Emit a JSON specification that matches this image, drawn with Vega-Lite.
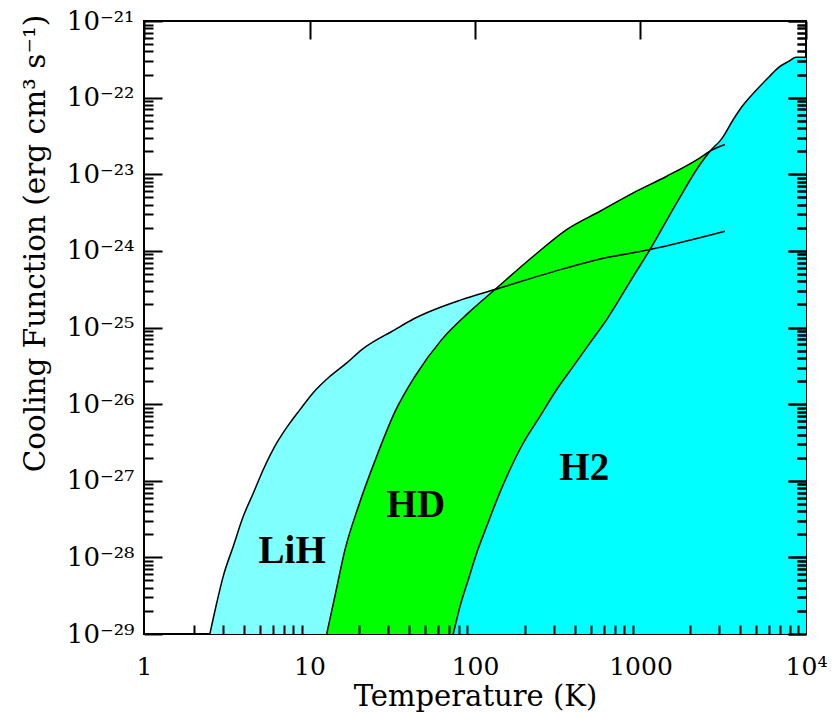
{
  "$schema": "https://vega.github.io/schema/vega-lite/v6.json",
  "width": 662,
  "height": 613,
  "autosize": {"type": "none"},
  "padding": {"left": 144, "top": 21, "right": 32, "bottom": 78},
  "background": "white",
  "config": {
    "view": {"stroke": "black", "strokeWidth": 2},
    "axis": {"grid": false, "domainColor": "black", "domainWidth": 2}
  },
  "datasets": {
    "curves": [
      {"gas": "LiH", "T": 2.5, "L": 1.0e-29},
      {"gas": "LiH", "T": 2.75, "L": 2.54e-29},
      {"gas": "LiH", "T": 3.01, "L": 5.65e-29},
      {"gas": "LiH", "T": 3.46, "L": 1.39e-28},
      {"gas": "LiH", "T": 3.98, "L": 3.43e-28},
      {"gas": "LiH", "T": 4.58, "L": 6.93e-28},
      {"gas": "LiH", "T": 5.26, "L": 1.40e-27},
      {"gas": "LiH", "T": 6.34, "L": 3.11e-27},
      {"gas": "LiH", "T": 7.62, "L": 5.69e-27},
      {"gas": "LiH", "T": 8.76, "L": 8.47e-27},
      {"gas": "LiH", "T": 10.5, "L": 1.40e-26},
      {"gas": "LiH", "T": 13.3, "L": 2.31e-26},
      {"gas": "LiH", "T": 16.8, "L": 3.45e-26},
      {"gas": "LiH", "T": 20.7, "L": 5.14e-26},
      {"gas": "LiH", "T": 32.9, "L": 9.40e-26},
      {"gas": "LiH", "T": 42.4, "L": 1.29e-25},
      {"gas": "LiH", "T": 83.1, "L": 2.31e-25},
      {"gas": "LiH", "T": 132, "L": 3.13e-25},
      {"gas": "LiH", "T": 358, "L": 6.00e-25},
      {"gas": "LiH", "T": 596, "L": 8.0e-25},
      {"gas": "LiH", "T": 1141, "L": 1.04e-24},
      {"gas": "LiH", "T": 3241, "L": 1.80e-24},
      {"gas": "HD", "T": 12.7, "L": 1.0e-29},
      {"gas": "HD", "T": 14.26, "L": 3.16e-29},
      {"gas": "HD", "T": 16.39, "L": 1.26e-28},
      {"gas": "HD", "T": 19.72, "L": 4.59e-28},
      {"gas": "HD", "T": 24.88, "L": 1.83e-27},
      {"gas": "HD", "T": 32.86, "L": 7.98e-27},
      {"gas": "HD", "T": 43.4, "L": 2.31e-26},
      {"gas": "HD", "T": 62.9, "L": 6.95e-26},
      {"gas": "HD", "T": 91.1, "L": 1.55e-25},
      {"gas": "HD", "T": 132, "L": 3.13e-25},
      {"gas": "HD", "T": 225, "L": 8.51e-25},
      {"gas": "HD", "T": 358, "L": 1.90e-24},
      {"gas": "HD", "T": 569, "L": 3.29e-24},
      {"gas": "HD", "T": 905, "L": 5.71e-24},
      {"gas": "HD", "T": 1440, "L": 9.42e-24},
      {"gas": "HD", "T": 2288, "L": 1.64e-23},
      {"gas": "HD", "T": 2630, "L": 2.00e-23},
      {"gas": "HD", "T": 3241, "L": 2.44e-23},
      {"gas": "H2", "T": 73.9, "L": 1.0e-29},
      {"gas": "H2", "T": 81.2, "L": 2.29e-29},
      {"gas": "H2", "T": 91.1, "L": 5.12e-29},
      {"gas": "H2", "T": 102.4, "L": 1.14e-28},
      {"gas": "H2", "T": 117.7, "L": 2.54e-28},
      {"gas": "H2", "T": 138.3, "L": 6.25e-28},
      {"gas": "H2", "T": 162.7, "L": 1.40e-27},
      {"gas": "H2", "T": 195.8, "L": 3.11e-27},
      {"gas": "H2", "T": 247, "L": 6.93e-27},
      {"gas": "H2", "T": 311.7, "L": 1.55e-26},
      {"gas": "H2", "T": 392.6, "L": 3.11e-26},
      {"gas": "H2", "T": 495.3, "L": 6.30e-26},
      {"gas": "H2", "T": 625, "L": 1.27e-25},
      {"gas": "H2", "T": 905, "L": 4.66e-25},
      {"gas": "H2", "T": 1141, "L": 1.04e-24},
      {"gas": "H2", "T": 1655, "L": 4.24e-24},
      {"gas": "H2", "T": 2288, "L": 1.34e-23},
      {"gas": "H2", "T": 2630, "L": 2.00e-23},
      {"gas": "H2", "T": 3103, "L": 2.92e-23},
      {"gas": "H2", "T": 3637, "L": 5.18e-23},
      {"gas": "H2", "T": 4106, "L": 7.66e-23},
      {"gas": "H2", "T": 4947, "L": 1.22e-22},
      {"gas": "H2", "T": 5969, "L": 1.86e-22},
      {"gas": "H2", "T": 6869, "L": 2.50e-22},
      {"gas": "H2", "T": 7894, "L": 2.99e-22},
      {"gas": "H2", "T": 8666, "L": 3.37e-22},
      {"gas": "H2", "T": 10000, "L": 3.37e-22}
    ],
    "labels": [
      {"gas": "LiH", "T": 7.86, "L": 8.37e-29},
      {"gas": "HD", "T": 43.9, "L": 3.40e-28},
      {"gas": "H2", "T": 457, "L": 1.02e-27}
    ]
  },
  "layer": [
    {
      "data": {"name": "curves"},
      "transform": [{"filter": "datum.gas == 'LiH'"}],
      "mark": {"type": "area", "color": "#80ffff", "interpolate": "monotone", "clip": true},
      "encoding": {
        "x": {"field": "T", "type": "quantitative", "scale": {"type": "log", "domain": [1, 10000], "nice": false}, "axis": null},
        "y": {"field": "L", "type": "quantitative", "stack": null, "scale": {"type": "log", "domain": [1e-29, 1e-21], "nice": false}, "axis": null},
        "y2": {"datum": 1e-29}
      }
    },
    {
      "data": {"name": "curves"},
      "transform": [{"filter": "datum.gas == 'HD'"}],
      "mark": {"type": "area", "color": "#00ff00", "interpolate": "monotone", "clip": true},
      "encoding": {
        "x": {"field": "T", "type": "quantitative", "scale": {"type": "log", "domain": [1, 10000], "nice": false}, "axis": null},
        "y": {"field": "L", "type": "quantitative", "stack": null, "scale": {"type": "log", "domain": [1e-29, 1e-21], "nice": false}, "axis": null},
        "y2": {"datum": 1e-29}
      }
    },
    {
      "data": {"name": "curves"},
      "transform": [{"filter": "datum.gas == 'H2'"}],
      "mark": {"type": "area", "color": "#00ffff", "interpolate": "monotone", "clip": true},
      "encoding": {
        "x": {"field": "T", "type": "quantitative", "scale": {"type": "log", "domain": [1, 10000], "nice": false}, "axis": null},
        "y": {"field": "L", "type": "quantitative", "stack": null, "scale": {"type": "log", "domain": [1e-29, 1e-21], "nice": false}, "axis": null},
        "y2": {"datum": 1e-29}
      }
    },
    {
      "data": {"name": "curves"},
      "transform": [{"filter": "datum.gas == 'LiH'"}],
      "mark": {"type": "line", "color": "black", "strokeWidth": 1.5, "interpolate": "monotone", "clip": true},
      "encoding": {
        "x": {
          "field": "T", "type": "quantitative",
          "scale": {"type": "log", "domain": [1, 10000], "nice": false},
          "axis": {
            "orient": "bottom",
            "zindex": 2,
            "values": [1, 10, 100, 1000, 10000],
            "ticks": false,
            "grid": true,
            "gridColor": "black",
            "gridWidth": 2,
            "gridDash": [18, 2000],
            "domain": false,
            "labelExpr": "datum.value > 5000 ? '10⁴' : format(datum.value, 'd')",
            "labelFont": "DejaVu Serif",
            "labelFontSize": 25,
            "labelColor": "black",
            "labelPadding": 20,
            "labelOverlap": false,
            "labelFlush": false,
            "title": "Temperature (K)",
            "titleFont": "DejaVu Serif",
            "titleFontSize": 29,
            "titleFontWeight": "normal",
            "titleColor": "black",
            "titleBaseline": "alphabetic",
            "titleY": 71
          }
        },
        "y": {
          "field": "L", "type": "quantitative",
          "scale": {"type": "log", "domain": [1e-29, 1e-21], "nice": false},
          "axis": {
            "orient": "left",
            "zindex": 2,
            "values": [1e-29, 1e-28, 1e-27, 1e-26, 1e-25, 1e-24, 1e-23, 1e-22, 1e-21],
            "ticks": false,
            "grid": true,
            "gridColor": "black",
            "gridWidth": 2,
            "gridDash": [18, 626, 18, 2000],
            "domain": false,
            "labelExpr": "'10⁻' + substring('⁰¹²³⁴⁵⁶⁷⁸⁹', floor(-round(log(datum.value)/LN10)/10), floor(-round(log(datum.value)/LN10)/10) + 1) + substring('⁰¹²³⁴⁵⁶⁷⁸⁹', (-round(log(datum.value)/LN10)) % 10, (-round(log(datum.value)/LN10)) % 10 + 1)",
            "labelFont": "DejaVu Serif",
            "labelFontSize": 26,
            "labelColor": "black",
            "labelPadding": 10,
            "labelOverlap": false,
            "labelFlush": false,
            "title": "Cooling Function (erg cm³ s⁻¹)",
            "titleFont": "DejaVu Serif",
            "titleFontSize": 29.5,
            "titleFontWeight": "normal",
            "titleColor": "black",
            "titleAngle": -90,
            "titleAlign": "center",
            "titleBaseline": "middle",
            "titleX": -109,
            "titleY": 222
          }
        }
      }
    },
    {
      "data": {"name": "curves"},
      "transform": [{"filter": "datum.gas == 'HD'"}],
      "mark": {"type": "line", "color": "black", "strokeWidth": 1.5, "interpolate": "monotone", "clip": true},
      "encoding": {
        "x": {
          "field": "T", "type": "quantitative",
          "scale": {"type": "log", "domain": [1, 10000], "nice": false},
          "axis": {
            "orient": "bottom",
            "zindex": 2,
            "values": [2,3,4,5,6,7,8,9,20,30,40,50,60,70,80,90,200,300,400,500,600,700,800,900,2000,3000,4000,5000,6000,7000,8000,9000],
            "offset": -9,
            "tickSize": 9,
            "tickColor": "black",
            "tickWidth": 2,
            "labels": false,
            "domain": false,
            "title": null
          }
        },
        "y": {
          "field": "L", "type": "quantitative",
          "scale": {"type": "log", "domain": [1e-29, 1e-21], "nice": false},
          "axis": {
            "orient": "left",
            "zindex": 2,
            "values": [2e-29,3e-29,4e-29,5e-29,6e-29,7e-29,8e-29,9e-29,2e-28,3e-28,4e-28,5e-28,6e-28,7e-28,8e-28,9e-28,2e-27,3e-27,4e-27,5e-27,6e-27,7e-27,8e-27,9e-27,2e-26,3e-26,4e-26,5e-26,6e-26,7e-26,8e-26,9e-26,2e-25,3e-25,4e-25,5e-25,6e-25,7e-25,8e-25,9e-25,2e-24,3e-24,4e-24,5e-24,6e-24,7e-24,8e-24,9e-24,2e-23,3e-23,4e-23,5e-23,6e-23,7e-23,8e-23,9e-23,2e-22,3e-22,4e-22,5e-22,6e-22,7e-22,8e-22,9e-22],
            "ticks": false,
            "grid": true,
            "gridColor": "black",
            "gridWidth": 2,
            "gridDash": [9, 644, 9, 2000],
            "labels": false,
            "domain": false,
            "title": null
          }
        }
      }
    },
    {
      "data": {"name": "curves"},
      "transform": [{"filter": "datum.gas == 'H2'"}],
      "mark": {"type": "line", "color": "black", "strokeWidth": 1.5, "interpolate": "monotone", "clip": true},
      "encoding": {
        "x": {"field": "T", "type": "quantitative", "scale": {"type": "log", "domain": [1, 10000], "nice": false}, "axis": null},
        "y": {
          "field": "L", "type": "quantitative",
          "scale": {"type": "log", "domain": [1e-29, 1e-21], "nice": false},
          "axis": {
            "orient": "right",
            "zindex": 2,
            "values": [1e-29, 1e-28, 1e-27, 1e-26, 1e-25, 1e-24, 1e-23, 1e-22, 1e-21],
            "offset": -18,
            "tickSize": 18,
            "tickColor": "black",
            "tickWidth": 2,
            "labels": false,
            "domain": false,
            "title": null
          }
        }
      }
    },
    {
      "data": {"name": "labels"},
      "mark": {"type": "text", "font": "Liberation Serif", "fontWeight": "bold", "fontSize": 39, "color": "black", "align": "center", "baseline": "alphabetic"},
      "encoding": {
        "x": {"field": "T", "type": "quantitative", "scale": {"type": "log", "domain": [1, 10000], "nice": false}, "axis": null},
        "y": {
          "field": "L", "type": "quantitative",
          "scale": {"type": "log", "domain": [1e-29, 1e-21], "nice": false},
          "axis": {
            "orient": "right",
            "zindex": 2,
            "values": [2e-29,3e-29,4e-29,5e-29,6e-29,7e-29,8e-29,9e-29,2e-28,3e-28,4e-28,5e-28,6e-28,7e-28,8e-28,9e-28,2e-27,3e-27,4e-27,5e-27,6e-27,7e-27,8e-27,9e-27,2e-26,3e-26,4e-26,5e-26,6e-26,7e-26,8e-26,9e-26,2e-25,3e-25,4e-25,5e-25,6e-25,7e-25,8e-25,9e-25,2e-24,3e-24,4e-24,5e-24,6e-24,7e-24,8e-24,9e-24,2e-23,3e-23,4e-23,5e-23,6e-23,7e-23,8e-23,9e-23,2e-22,3e-22,4e-22,5e-22,6e-22,7e-22,8e-22,9e-22],
            "offset": -9,
            "tickSize": 9,
            "tickColor": "black",
            "tickWidth": 2,
            "labels": false,
            "domain": false,
            "title": null
          }
        },
        "text": {"field": "gas"}
      }
    }
  ],
  "resolve": {"axis": {"x": "independent", "y": "independent"}}
}
